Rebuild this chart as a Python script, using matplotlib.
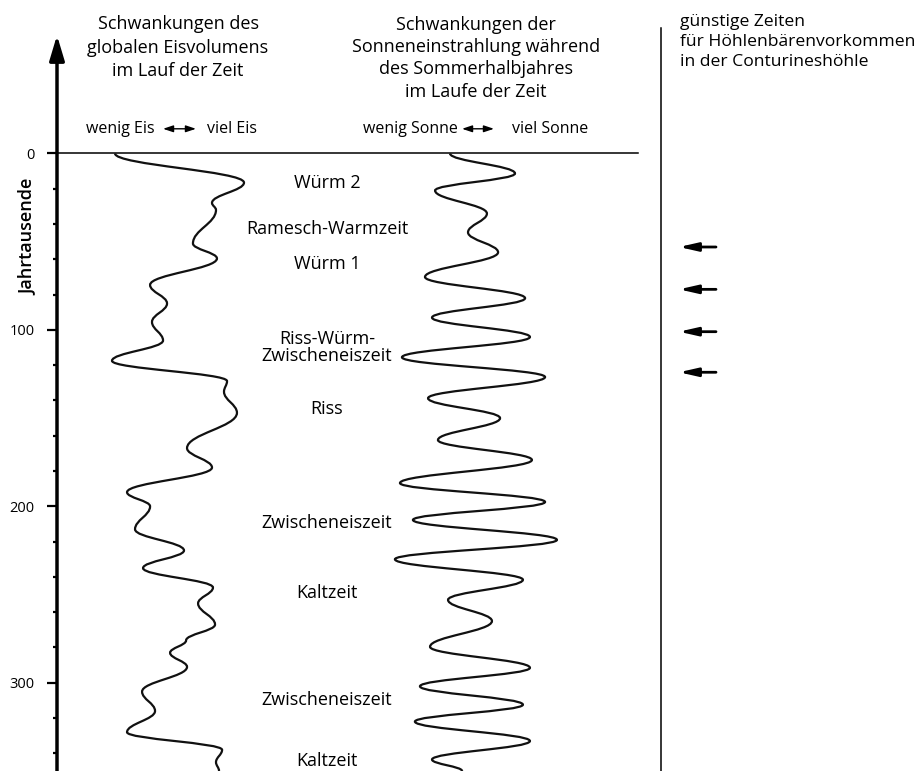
import matplotlib.pyplot as plt
from matplotlib.path import Path
from matplotlib.patches import PathPatch

plt.rcParams['font.family'] = ['Open Sans', 'DejaVu Sans']

# global ice volume, relative units (0 = wenig Eis, 100 = viel Eis)
ice_time = [0, 16.5, 28, 32, 51, 59.5, 74.5, 85, 95.5, 106,
            117.5, 129, 135, 147, 167, 178, 192, 200, 213, 225,
            235, 246, 255, 267, 276, 283, 291, 305, 316, 328,
            338, 345, 350]
ice_value = [9.4, 90.0, 70.0, 72.5, 58.1, 73.1, 31.3, 41.9, 32.5, 39.4,
             7.5, 79.4, 77.5, 85.6, 54.4, 70.0, 16.9, 31.3, 21.9, 52.5,
             26.9, 70.6, 61.3, 71.9, 53.8, 43.8, 54.4, 26.3, 34.4, 16.9,
             76.3, 72.5, 74.4]

# summer insolation, relative units (0 = wenig Sonne, 100 = viel Sonne)
sun_time = [0, 11.3, 21, 34, 44.7, 56, 70, 82, 93, 104,
            115.5, 126.7, 138.7, 150, 162.4, 173.7, 186.8, 197.5, 207.7, 219,
            230, 241.6, 253, 265, 279.6, 291.5, 302, 312.4, 322, 333,
            343.5, 350]
sun_value = [38.9, 75.0, 30.6, 59.4, 48.9, 65.6, 25.0, 80.6, 28.9, 83.3,
             12.2, 91.7, 26.7, 66.7, 32.2, 84.4, 11.1, 91.7, 18.3, 98.3,
             8.3, 79.4, 37.8, 62.2, 27.8, 83.3, 22.2, 79.4, 19.4, 83.3,
             28.9, 45.6]

epoch_labels = ['Würm 2', 'Ramesch-Warmzeit', 'Würm 1', 'Riss-Würm-', 'Zwischeneiszeit',
                'Riss', 'Zwischeneiszeit', 'Kaltzeit', 'Zwischeneiszeit', 'Kaltzeit']
epoch_time = [16.7, 42.8, 62.6, 105, 114.7, 144.8, 209.3, 249, 309.6, 344.2]

bear_time = [53, 77, 101, 124]

major_ticks = [0, 100, 200, 300]
minor_ticks = [20, 40, 60, 80, 120, 140, 160, 180, 220, 240, 260, 280, 320, 340]

TMIN, TMAX = -87, 350


def smooth_path(t, v, k=0.4):
    # cubic segments between turning points, tangent along the time axis
    verts = [(v[0], t[0])]
    codes = [Path.MOVETO]
    for i in range(len(t) - 1):
        dt = t[i + 1] - t[i]
        verts += [(v[i], t[i] + k * dt), (v[i + 1], t[i + 1] - k * dt), (v[i + 1], t[i + 1])]
        codes += [Path.CURVE4] * 3
    return Path(verts, codes)


fig = plt.figure(figsize=(9.23, 7.71), dpi=100)
ax = fig.add_axes([0, 0, 1, 1])
ax.set_xlim(0, 923)
ax.set_ylim(TMAX, TMIN)
for s in ['top', 'right', 'bottom', 'left']:
    ax.spines[s].set_visible(False)
ax.spines['left'].set_position(('data', 57))
ax.set_xticks([])
ax.set_yticks(major_ticks)
ax.set_yticks(minor_ticks, minor=True)
ax.tick_params(axis='y', which='major', length=7, width=1.6, labelsize=10.5, pad=9)
ax.tick_params(axis='y', which='minor', length=3, width=1.6)

# time axis with arrow
ax.annotate('', xy=(57, -67), xytext=(57, TMAX),
            arrowprops=dict(arrowstyle='-|>,head_length=1.5,head_width=0.45',
                            lw=2.5, color='k', shrinkA=0, shrinkB=0))
ax.text(28, 47, 'Jahrtausende', rotation=90, ha='center', va='center',
        fontsize=13, fontweight='semibold')

ax.plot([57, 638], [0, 0], color='k', lw=1.1)
ax.plot([661, 661], [-71, TMAX], color='k', lw=1.1)

# headers
for txt, t in zip(['Schwankungen des', 'globalen Eisvolumens', 'im Lauf der Zeit'],
                  [-70.6, -57.0, -43.9]):
    ax.text(178, t, txt, ha='center', va='baseline', fontsize=13)
for txt, t in zip(['Schwankungen der', 'Sonneneinstrahlung während',
                   'des Sommerhalbjahres', 'im Laufe der Zeit'],
                  [-70.0, -57.5, -45.0, -32.0]):
    ax.text(476, t, txt, ha='center', va='baseline', fontsize=13)
for txt, t in zip(['günstige Zeiten', 'für Höhlenbärenvorkommen', 'in der Conturineshöhle'],
                  [-72.2, -61.0, -49.8]):
    ax.text(680, t, txt, ha='left', va='baseline', fontsize=12.6)

# scale hints
ax.text(155, -11.6, 'wenig Eis', ha='right', va='baseline', fontsize=11.5)
ax.text(207, -11.6, 'viel Eis', ha='left', va='baseline', fontsize=11.5)
ax.text(458, -11.6, 'wenig Sonne', ha='right', va='baseline', fontsize=11.5)
ax.text(512, -11.6, 'viel Sonne', ha='left', va='baseline', fontsize=11.5)
for x0, x1 in [(163, 196), (462, 494)]:
    ax.annotate('', xy=(x1, -14), xytext=(x0, -14),
                arrowprops=dict(arrowstyle='<|-|>,head_length=0.6,head_width=0.2',
                                lw=1, color='k', shrinkA=0, shrinkB=0))

for txt, t in zip(epoch_labels, epoch_time):
    ax.text(327, t, txt, ha='center', va='center', fontsize=13)

for t in bear_time:
    ax.annotate('', xy=(679, t), xytext=(716, t),
                arrowprops=dict(arrowstyle='-|>,head_length=1.1,head_width=0.25',
                                lw=2, color='k', shrinkA=0, shrinkB=0))

# curves
ax_ice = fig.add_axes([100 / 923, 0, 160 / 923, 1])
ax_ice.set_xlim(0, 100)
ax_ice.set_ylim(TMAX, TMIN)
ax_ice.axis('off')
ax_ice.add_patch(PathPatch(smooth_path(ice_time, ice_value), fill=False, lw=1.6, color='#111111'))

ax_sun = fig.add_axes([380 / 923, 0, 180 / 923, 1])
ax_sun.set_xlim(0, 100)
ax_sun.set_ylim(TMAX, TMIN)
ax_sun.axis('off')
ax_sun.add_patch(PathPatch(smooth_path(sun_time, sun_value), fill=False, lw=1.6, color='#111111'))

fig.savefig('out.png', dpi=100)
